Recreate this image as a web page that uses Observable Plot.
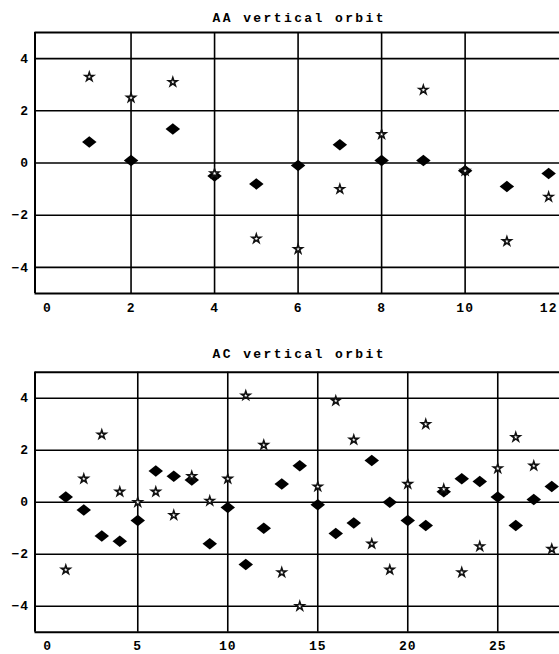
<!DOCTYPE html>
<html><head><meta charset="utf-8">
<script src="https://cdn.jsdelivr.net/npm/d3@7"></script>
<script src="https://cdn.jsdelivr.net/npm/@observablehq/plot@0.6"></script>
<style>
html,body{margin:0;padding:0;background:#fff;}
#chart{width:559px;height:654px;overflow:hidden;}
#chart svg{display:block;}
</style></head><body><div id="chart"></div>
<script>
// ---- data ----
const aaTitle = "AA vertical orbit";
const aaTurns = [1,2,3,4,5,6,7,8,9,10,11,12];
const aaDiamond = [0.8,0.1,1.3,-0.5,-0.8,-0.1,0.7,0.1,0.1,-0.3,-0.9,-0.4];
const aaStar = [3.3,2.5,3.1,-0.4,-2.9,-3.3,-1.0,1.1,2.8,-0.3,-3.0,-1.3];
const aaXTicks = [0,2,4,6,8,10,12];
const aaXGrid = [2,4,6,8,10];

const acTitle = "AC vertical orbit";
const acTurns = [1,2,3,4,5,6,7,8,9,10,11,12,13,14,15,16,17,18,19,20,21,22,23,24,25,26,27,28];
const acDiamond = [0.2,-0.3,-1.3,-1.5,-0.7,1.2,1.0,0.85,-1.6,-0.2,-2.4,-1.0,0.7,1.4,-0.1,-1.2,-0.8,1.6,0.0,-0.7,-0.9,0.4,0.9,0.8,0.2,-0.9,0.1,0.6];
const acStar = [-2.6,0.9,2.6,0.4,0.0,0.4,-0.5,1.0,0.05,0.9,4.1,2.2,-2.7,-4.0,0.6,3.9,2.4,-1.6,-2.6,0.7,3.0,0.5,-2.7,-1.7,1.3,2.5,1.4,-1.8];
const acXTicks = [0,5,10,15,20,25];
const acXGrid = [5,10,15,20,25];

const yTicks = [-4,-2,0,2,4];
const yDomain = [-5,5];

// wide filled diamond symbol
const wideDiamond = {
  draw(context, size) {
    const s = Math.sqrt(size / Math.PI);
    context.moveTo(-1.45 * s, 0);
    context.lineTo(0, -1.15 * s);
    context.lineTo(1.45 * s, 0);
    context.lineTo(0, 1.15 * s);
    context.closePath();
  }
};

function panel({turns, diamond, star, title, xDomain, xTicks, xGrid, marginTop, marginBottom, height, titleDy}) {
  const dData = turns.map((t, i) => ({turn: t, value: diamond[i]}));
  const sData = turns.map((t, i) => ({turn: t, value: star[i]}));
  const svg = Plot.plot({
    width: 559, height, marginLeft: 34.5, marginRight: 0, marginTop, marginBottom,
    style: {fontFamily: "'Liberation Mono', monospace", fontWeight: "bold", fontSize: "13px", color: "#000", background: "#fff", overflow: "visible"},
    x: {domain: xDomain, ticks: xTicks, tickSize: 0, tickPadding: 9, label: null},
    y: {domain: yDomain, ticks: yTicks, tickSize: 0, tickPadding: 6, label: null},
    marks: [
      Plot.ruleY(yTicks, {stroke: "#000", strokeWidth: 1.6}),
      Plot.ruleX(xGrid, {stroke: "#000", strokeWidth: 1.6}),
      Plot.ruleX([xDomain[0]], {stroke: "#000", strokeWidth: 2}),
      Plot.ruleY(yDomain, {stroke: "#000", strokeWidth: 2}),
      Plot.dot(dData, {x: "turn", y: "value", symbol: wideDiamond, r: 5, fill: "#000", stroke: "none"}),
      Plot.dot(sData, {x: "turn", y: "value", symbol: "star", r: 2.7, fill: "#fff", stroke: "#111", strokeWidth: 1.6}),
      Plot.text([title], {frameAnchor: "top", lineAnchor: "middle", dy: titleDy, dx: 2, text: d => d, fontSize: 13, fontWeight: "bold", fontFamily: "'Liberation Mono', monospace", fill: "#000"})
    ]
  });
  d3.select(svg).selectAll('g[aria-label="text"] text').attr("letter-spacing", "2.4px");
  d3.select(svg).selectAll('g[aria-label="x-axis tick label"] text, g[aria-label="y-axis tick label"] text').attr("letter-spacing", "1px");
  return svg;
}

const chart = document.getElementById("chart");
chart.append(panel({
  turns: aaTurns, diamond: aaDiamond, star: aaStar, title: aaTitle,
  xDomain: [-0.3, 12.26], xTicks: aaXTicks, xGrid: aaXGrid,
  marginTop: 32, marginBottom: 34, height: 327, titleDy: -15
}));
chart.append(panel({
  turns: acTurns, diamond: acDiamond, star: acStar, title: acTitle,
  xDomain: [-0.71, 28.43], xTicks: acXTicks, xGrid: acXGrid,
  marginTop: 44.7, marginBottom: 22.3, height: 327, titleDy: -18.5
}));
</script>
</body></html>
